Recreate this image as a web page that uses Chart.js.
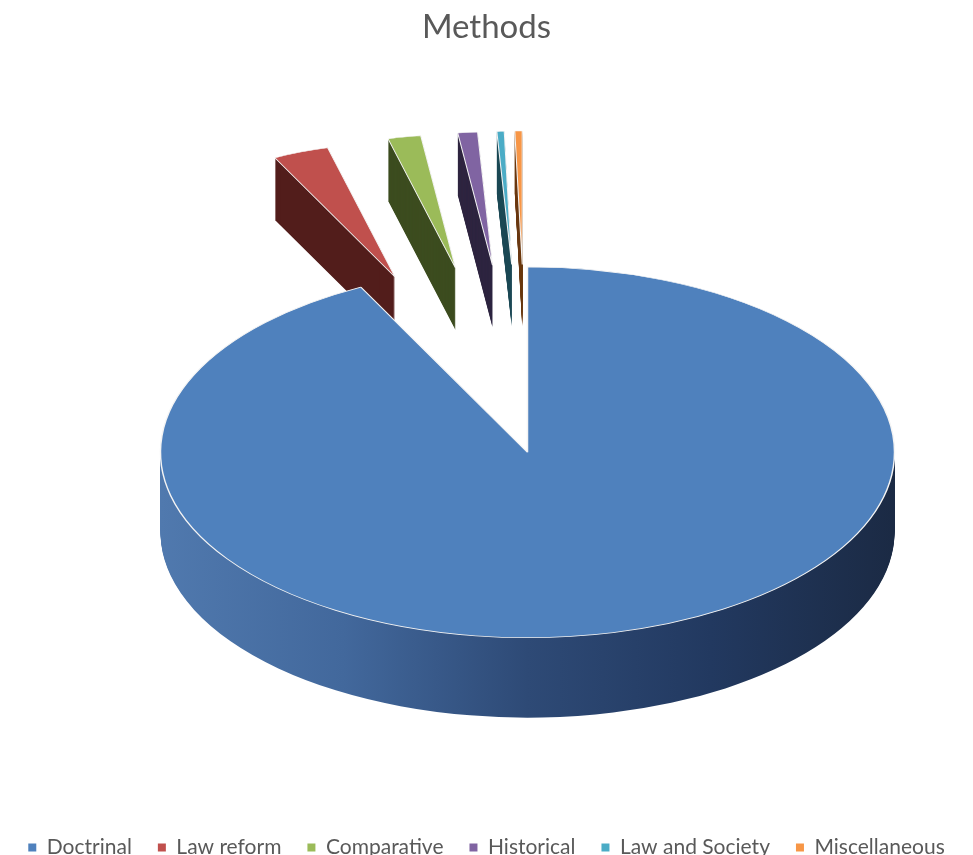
<!DOCTYPE html>
<html>
<head>
<meta charset="utf-8">
<title>Methods</title>
<script src="https://cdn.jsdelivr.net/npm/chart.js@4.4.1/dist/chart.umd.min.js"></script>
<style>
  html, body { margin: 0; padding: 0; background: #fff; overflow: hidden; }
  #wrap { position: relative; width: 973px; height: 868px; }
</style>
</head>
<body>
<div id="wrap"><canvas id="methodsChart"></canvas></div>
<script>
// values (share of the whole, %)
const categories = ["Doctrinal", "Law reform", "Comparative", "Historical", "Law and Society", "Miscellaneous"];
const shares = [92.5, 3.4, 2.0, 1.2, 0.45, 0.45];

const topColors = ["#4f81bd", "#c0504d", "#9bbb59", "#8064a2", "#4bacc6", "#f79646"];
const sideColors = ["#2f4c78", "#521d1b", "#3c4c1f", "#2e2540", "#1d4a56", "#6b3a12"];

/* =========================
   3D LOOK (tilt, depth, explode)
========================= */
const tilt = 0.505;      // vertical squash of the pie top
const depth = 80;        // thickness in px
const farDepth = 62;     // thickness of the pulled-out slices
const shiftX = 41;       // pie sits a bit right of the page centre
const explodeBy = 372;   // how far the small slices are pulled out
const farScale = 0.72;   // pulled-out slices look smaller (further away)

function drawAs(el, ctx, fill, stroke, width) {
  const p = Object.create(el);
  const o = Object.create(el.options);
  Object.defineProperties(o, {
    backgroundColor: { value: fill },
    borderColor: { value: stroke },
    borderWidth: { value: width },
    offset: { value: 0 }
  });
  p.options = o;
  el.draw.call(p, ctx);
}

const pie3d = {
  id: "pie3d",
  beforeDatasetsDraw(chart) {
    const ctx = chart.ctx;
    const arcs = chart.getDatasetMeta(0).data;
    const cx = arcs[0].x, cy = arcs[0].y, R = arcs[0].outerRadius;

    const grad = ctx.createLinearGradient(cx - R, 0, cx + R, 0);
    grad.addColorStop(0, "#5079ae");
    grad.addColorStop(0.25, "#42689c");
    grad.addColorStop(0.5, "#2e4a76");
    grad.addColorStop(0.75, "#223960");
    grad.addColorStop(1, "#1b2a44");

    function place(a, i, drop) {
      const h = (a.startAngle + a.endAngle) / 2;
      const e = i === 0 ? 0 : explodeBy;
      const s = i === 0 ? 1 : farScale;
      ctx.translate(shiftX, drop);
      ctx.translate(0, cy);
      ctx.scale(1, tilt);
      ctx.translate(0, -cy);
      ctx.translate(cx + e * Math.cos(h), cy + e * Math.sin(h));
      ctx.scale(s, s);
      ctx.translate(-cx, -cy);
    }

    // sides first: pulled-out slices, then the big one
    const order = [1, 2, 3, 4, 5, 0];
    order.forEach(i => {
      const a = arcs[i];
      const d = i === 0 ? depth : farDepth;
      const fill = i === 0 ? grad : sideColors[i];
      for (let j = d; j >= 1; j--) {
        ctx.save();
        place(a, i, j);
        drawAs(a, ctx, fill, fill, 0);
        ctx.restore();
      }
    });

    // tops
    order.forEach(i => {
      const a = arcs[i];
      ctx.save();
      place(a, i, 0);
      drawAs(a, ctx, topColors[i], "#f4f4f4", 1.5);
      ctx.restore();
    });

    return false;
  }
};

/* =========================
   CHART
========================= */
function initChart() {
  const el = document.getElementById("methodsChart");

  new Chart(el, {
    type: "pie",
    data: {
      labels: categories,
      datasets: [{
        data: shares,
        backgroundColor: topColors,
        borderColor: "#f4f4f4",
        borderWidth: 1.5
      }]
    },
    options: {
      responsive: true,
      maintainAspectRatio: false,
      animation: false,
      events: [],
      radius: 367,
      layout: { padding: 0 },
      plugins: {
        title: {
          display: true,
          text: "Methods",
          color: "#595959",
          font: { family: "Lato", size: 33, weight: "normal" },
          padding: { top: 8, bottom: 46 }
        },
        legend: {
          position: "bottom",
          labels: {
            color: "#595959",
            font: { family: "Lato", size: 21 },
            boxWidth: 8,
            boxHeight: 8,
            padding: 26,
            generateLabels: chart =>
              Chart.overrides.pie.plugins.legend.labels.generateLabels(chart)
                .map(l => ({ ...l, lineWidth: 0 }))
          }
        },
        tooltip: { enabled: false }
      }
    },
    plugins: [pie3d]
  });
}

document.addEventListener("DOMContentLoaded", initChart);
</script>
</body>
</html>
